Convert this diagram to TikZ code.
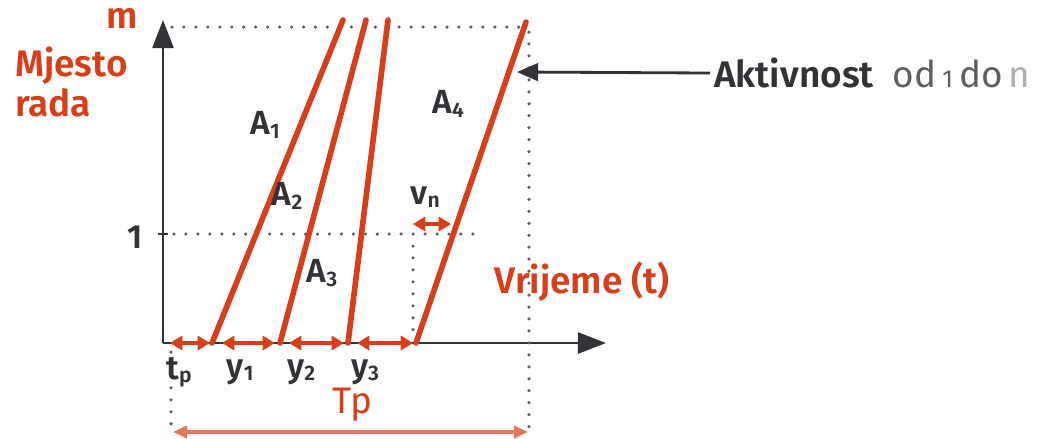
\documentclass[tikz,border=0pt]{standalone}
\usepackage{fontspec}
\setmainfont{Fira Sans}[BoldFont={Fira Sans SemiBold}]
\usetikzlibrary{arrows.meta, positioning, calc}
\definecolor{myred}{RGB}{214,62,28}
\definecolor{mylightred}{RGB}{228,120,95}
\definecolor{mydark}{RGB}{50,50,55}
\definecolor{mygray}{RGB}{95,95,95}
\definecolor{mypale}{RGB}{175,175,175}
\newcommand{\lowsub}[1]{\textsubscript{\fontsize{6}{6}\selectfont #1}}
\tikzset{
  axis/.style={-{Triangle[length=8pt,width=6pt]}, line width=0.7pt, color=mydark},
  actline/.style={line width=1.6pt, color=myred, line cap=round},
  dotline/.style={line width=1pt, color=mygray, line cap=round,
    dash pattern=on 0pt off 3.4pt},
  gaparrow/.style={{Triangle[length=3.5pt,width=4pt]}-{Triangle[length=3.5pt,width=4pt]},
    line width=1pt, color=myred},
  tparrow/.style={{Triangle[length=4pt,width=3.5pt]}-{Triangle[length=4pt,width=3.5pt]},
    line width=0.9pt, color=mylightred},
  pointer/.style={-{Triangle[length=6pt,width=5pt]}, line width=0.8pt, color=mydark},
  lbl/.style={font=\bfseries\fontsize{9.5}{10}\selectfont, text=mydark, inner sep=1pt},
  redlbl/.style={font=\bfseries\fontsize{10.5}{10}\selectfont, text=myred, inner sep=1pt}
}

\begin{document}
\begin{tikzpicture}[x=0.01cm, y=-0.01cm]
  \useasboundingbox (0,0) rectangle (1042,438);
  % axes
  \coordinate (O) at (163,343);
  \coordinate (ytop) at (163,20);
  \coordinate (xend) at (606,343);
  \draw[axis] (O) -- (ytop);
  \draw[axis] (O) -- (xend);
  \draw[line width=0.7pt, color=mydark] (158,234) -- (168,234);
  % dotted guides
  \draw[dotline] (172,27) -- (524,27);
  \draw[dotline] (174,234) -- (478,234);
  \draw[dotline] (413,246) -- (413,336);
  \draw[dotline] (529,32) -- (529,428);
  \draw[dotline] (171,352) -- (171,428);
  % activity lines
  \coordinate (s1) at (212,343); \coordinate (e1) at (343,20);
  \coordinate (s2) at (280,343); \coordinate (e2) at (366,20);
  \coordinate (s3) at (348,343); \coordinate (e3) at (388,20);
  \coordinate (s4) at (416,343); \coordinate (e4) at (526,22);
  \foreach \i in {1,...,4}
    \draw[actline] (s\i) -- (e\i);
  % gaps on time axis
  \draw[gaparrow] (170,343) -- (210,343);
  \draw[gaparrow] (222,343) -- (275,343);
  \draw[gaparrow] (289,343) -- (344,343);
  \draw[gaparrow] (357,343) -- (413,343);
  \draw[gaparrow] (413,224) -- (451,224);
  \draw[tparrow] (173,432) -- (528,432);
  % labels
  \node[redlbl] (m) at (122,18) {m};
  \node[redlbl, anchor=west, align=left, font=\bfseries\fontsize{10.5}{10.2}\selectfont]
    (mjesto) at (11,82) {Mjesto\\rada};
  \node[lbl] (one) at (135,237) {1};
  \node[lbl] (a1) at (266,125) {A\lowsub{1}};
  \node[lbl] (a2) at (288,196) {A\lowsub{2}};
  \node[lbl] (a3) at (323,273) {A\lowsub{3}};
  \node[lbl] (a4) at (449,104) {A\lowsub{4}};
  \node[lbl] (vn) at (426,197) {v\lowsub{n}};
  \node[lbl] (tp) at (180,372) {t\lowsub{p}};
  \node[lbl] (y1) at (241,372) {y\lowsub{1}};
  \node[lbl] (y2) at (302,372) {y\lowsub{2}};
  \node[lbl] (y3) at (366,372) {y\lowsub{3}};
  \node[redlbl, font=\fontsize{10.5}{10}\selectfont] (Tp) at (352,405) {Tp};
  \node[redlbl] (vrijeme) at (582,282) {Vrijeme (t)};
  \node[lbl, anchor=west, font=\fontsize{10.5}{10}\selectfont] (akt) at (710,73)
    {\textbf{Aktivnost}\enspace{\color{mygray}od\,{\scriptsize 1}\,do\,\color{mypale}n}};
  \coordinate (hit) at (517,72);
  \draw[pointer] (akt.west) -- (hit);
\end{tikzpicture}
\end{document}
